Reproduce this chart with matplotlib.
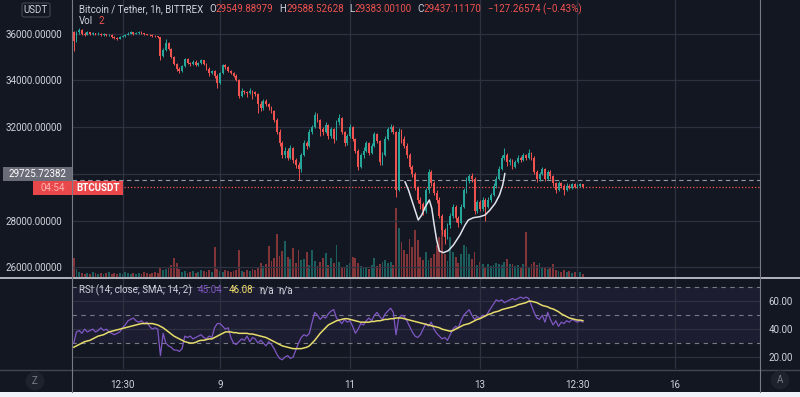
import matplotlib
matplotlib.use("Agg")
import matplotlib.pyplot as plt
import numpy as np
from matplotlib.lines import Line2D
from matplotlib.patches import Rectangle, FancyBboxPatch

plt.rcParams['font.family'] = ['Roboto', 'DejaVu Sans']

# BTC/USDT 1h candles, hour 0 = day 9 00:00
first_hour = -54
first_open = 36050

close = [
    35700, 36050, 36150, 36000, 35950, 36050, 35980, 36020, 35960, 36000,
    35940, 35980, 35920, 35950, 35850, 35800, 35780, 35850, 35900, 35950,
    36000, 36050, 35980, 36030, 36070, 36000, 35980, 35950, 35930, 35900,
    35880, 35850, 35050, 35300, 35600, 35350, 35000, 34700, 34500, 34400,
    34600, 34900, 34750, 34700, 34800, 34650, 34750, 34850, 34700, 34500,
    34300, 34400, 34200, 33900, 34300, 34650, 34550, 34400, 34300, 34200,
    34000, 33350, 33550, 33500, 33450, 33550, 33500, 33400, 33000, 32800,
    33100, 33000, 32850, 32700, 32300, 31800, 31300, 30800, 31000, 30700,
    31100, 30600, 30400, 30200, 30800, 31300, 31200, 31800, 32000, 32500,
    32300, 31900, 31800, 32100, 31600, 31900, 31500, 32200, 32400, 31800,
    31300, 31600, 32000, 31500, 31000, 30300, 30800, 31000, 31300, 30900,
    31200, 31700, 31400, 30500, 30800, 31500, 31900, 32000, 31800, 29300,
    31800, 31500, 31200, 30800, 30300, 30000, 29400, 28900, 28700, 28400,
    29300, 30100, 29600, 29200, 28900, 28200, 27600, 27300, 27800, 28200,
    28600, 28100, 27900, 28600, 29300, 29700, 29900, 29800, 28400, 28800,
    28500, 28900, 28600, 28900, 29100, 29500, 29800, 30200, 30700, 30800,
    30500, 30600, 30300, 30500, 30700, 30600, 30800, 30700, 30900, 30700,
    30100, 29800, 30000, 30200, 29800, 30100, 29900, 29600, 29300, 29600,
    29500, 29300, 29500, 29400, 29550, 29450, 29500, 29560, 29437.11,
]
high = [
    36100, 36100, 36250, 36180, 36050, 36100, 36080, 36060, 36040, 36050,
    36020, 36020, 36000, 35990, 35970, 35880, 35840, 35890, 35950, 36000,
    36060, 36120, 36080, 36080, 36110, 36090, 36030, 36000, 35980, 35960,
    35930, 35900, 35870, 35400, 35750, 35650, 35400, 35050, 34750, 34550,
    34650, 34950, 34950, 34800, 34850, 34850, 34800, 34900, 34880, 34750,
    34550, 34450, 34450, 34250, 34350, 34700, 34700, 34600, 34450, 34350,
    34250, 34050, 33650, 33600, 33550, 33650, 33600, 33550, 33450, 33100,
    33200, 33200, 33050, 32900, 32750, 32400, 31900, 31400, 31150, 31100,
    31250, 31150, 30700, 30500, 30900, 31450, 31400, 31900, 32100, 32650,
    32600, 32350, 32000, 32200, 32150, 32000, 31950, 32300, 32550, 32450,
    31850, 31700, 32150, 32050, 31550, 31050, 30900, 31150, 31400, 31350,
    31300, 31800, 31750, 31450, 30950, 31600, 32000, 32150, 32100, 31850,
    31950, 31900, 31600, 31300, 30900, 30400, 30100, 29500, 29000, 28800,
    29400, 30200, 30150, 29700, 29300, 29000, 28300, 27700, 27900, 28350,
    28700, 28650, 28200, 28700, 29400, 29850, 30000, 30050, 29850, 28900,
    28900, 29000, 28950, 29000, 29200, 29600, 29900, 30350, 30800, 31100,
    30900, 30700, 30650, 30600, 30800, 30750, 30900, 30850, 31050, 30950,
    30750, 30150, 30100, 30300, 30250, 30150, 30150, 29950, 29650, 29700,
    29650, 29550, 29600, 29550, 29600, 29600, 29560, 29600, 29588.53,
]
low = [
    35250, 35650, 36000, 35950, 35900, 35920, 35940, 35950, 35920, 35930,
    35900, 35910, 35880, 35890, 35820, 35760, 35740, 35760, 35830, 35870,
    35930, 35970, 35950, 35960, 36000, 35970, 35940, 35920, 35900, 35870,
    35840, 35800, 34850, 35000, 35250, 35300, 34950, 34650, 34400, 34300,
    34350, 34550, 34700, 34600, 34650, 34600, 34600, 34700, 34650, 34450,
    34200, 34250, 34100, 33650, 33850, 34250, 34500, 34350, 34250, 34150,
    33950, 33250, 33300, 33400, 33300, 33400, 33200, 33350, 32600, 32700,
    32750, 32900, 32750, 32600, 32200, 31700, 31200, 30700, 30700, 30600,
    30650, 30450, 30250, 29750, 30100, 30750, 31050, 31150, 31700, 31950,
    32200, 31600, 31650, 31750, 31500, 31550, 31300, 31450, 32100, 31700,
    31200, 31250, 31550, 31400, 30900, 30150, 30250, 30700, 30950, 30800,
    30850, 31150, 31300, 30400, 30400, 30750, 31450, 31800, 31700, 29000,
    29250, 31300, 31100, 30700, 30200, 29850, 29300, 28750, 28500, 28250,
    28350, 29200, 29500, 29100, 28750, 28100, 27400, 27000, 27200, 27700,
    28100, 27950, 27750, 27850, 28550, 29200, 29600, 29650, 28300, 28350,
    28400, 28400, 28000, 28550, 28800, 29050, 29400, 29750, 30150, 30600,
    30350, 30400, 30200, 30250, 30450, 30500, 30550, 30600, 30650, 30600,
    30000, 29650, 29700, 29950, 29700, 29750, 29800, 29500, 29200, 29250,
    29400, 29100, 29250, 29350, 29350, 29400, 29400, 29450, 29383.00,
]
volume = [
    19, 8, 5, 4, 3, 4, 3, 5, 4, 3, 4, 3, 4, 5, 3, 4, 3, 4, 3, 5,
    4, 3, 4, 3, 4, 3, 5, 4, 3, 4, 5, 4, 9, 7, 8, 10, 12, 19, 14, 8,
    5, 6, 4, 5, 6, 4, 5, 7, 6, 5, 7, 5, 30, 8, 6, 5, 7, 6, 5, 6,
    7, 27, 6, 5, 7, 6, 8, 7, 9, 14, 11, 13, 31, 16, 19, 43, 21, 26, 36, 20,
    18, 29, 14, 27, 17, 18, 25, 12, 27, 16, 11, 15, 19, 24, 12, 19, 14, 32, 15, 10,
    9, 12, 14, 20, 19, 14, 11, 9, 10, 8, 12, 19, 11, 13, 15, 17, 14, 15, 12, 69,
    49, 35, 27, 23, 38, 30, 47, 37, 20, 17, 25, 17, 19, 23, 32, 40, 50, 23, 16, 40,
    25, 20, 14, 23, 32, 30, 23, 18, 25, 12, 15, 13, 10, 13, 11, 12, 14, 13, 12, 15,
    18, 13, 13, 11, 12, 10, 13, 45, 10, 13, 15, 12, 14, 9, 10, 8, 9, 13, 7, 6,
    5, 7, 5, 6, 4, 5, 4, 5, 3,
]
rsi = [
    30, 38, 39, 37, 40, 38, 39, 40, 38, 39, 41, 39, 40, 38,
    37, 36, 37, 38, 41, 43, 46, 47, 48, 46, 45, 46, 44, 45,
    42, 40, 41, 40, 21, 37, 30, 28, 27, 25, 25, 24, 26, 35,
    34, 35, 33, 34, 35, 36, 34, 33, 35, 34, 41, 44, 44, 42,
    40, 41, 34, 30, 29, 31, 33, 32, 35, 31, 34, 33, 30, 32,
    30, 28, 31, 29, 26, 22, 19, 18, 20, 21, 19, 20, 25, 30,
    34, 36, 35, 37, 45, 52, 50, 47, 49, 48, 51, 53, 54, 48,
    46, 44, 47, 45, 46, 42, 37, 40, 44, 43, 46, 48, 46, 50,
    52, 49, 47, 51, 53, 55, 52, 36, 48, 50, 49, 46, 42, 38,
    35, 34, 36, 40, 44, 42, 45, 40, 37, 35, 33, 34, 32, 36,
    40, 42, 41, 46, 50, 52, 54, 50, 47, 49, 48, 50, 49, 52,
    55, 58, 61, 60, 61, 59, 60, 61, 62, 61, 62, 63, 62, 63,
    62, 57, 52, 48, 47, 50, 45, 52, 47, 43, 46, 42, 45, 44,
    46, 45, 47, 46, 45, 46, 45.04,
]
rsi_sma = [
    27, 28, 29, 30, 31, 31.5, 32, 33, 34, 35, 35.5, 36, 37, 38,
    38.5, 39, 39.5, 40, 40.5, 41, 41.5, 42, 42.5, 43, 43.5, 44, 44, 44,
    44, 44, 43.5, 43, 42, 41, 39.5, 38, 36.5, 35, 34, 33, 32, 31, 30.5,
    30, 30, 30.5, 31.5, 32, 32, 32.5, 33, 33, 34, 35, 36, 37, 38,
    38, 38, 37.5, 37.5, 37, 37, 37, 37, 36.5, 36.5, 36, 35.5,
    35, 34.5, 34, 33, 32, 31, 30, 29, 28, 27.5, 27, 26.5, 26, 26, 26,
    26, 26.5, 27, 28, 30, 32, 34.5, 37, 39, 41, 43,
    44, 45, 46, 46.5, 47, 47.5, 47.5, 47,
    46.5, 46, 45.5, 45, 45, 45, 45, 45.5, 45.5, 46, 46, 46.5,
    47, 47, 47.5, 47.5, 48, 48,
    48, 47.5, 47, 46.5, 46, 45.5, 45, 44.5, 44, 43.5, 43, 42.5,
    42, 41.5, 41, 40, 39.5, 39, 38.5,
    39, 40, 41, 42, 43, 43.5, 44, 45, 46, 47, 47.5, 48.5,
    49.5, 50.5, 51, 52, 52.5, 53, 54, 54.5, 55,
    55.5, 56, 56.5, 57.5, 58, 58.5, 59, 60,
    60, 59.5, 59, 58, 57, 56.5, 56, 55, 54.5, 53.5,
    52.5, 51, 50, 49, 48, 47.5, 47, 46.5, 46.5, 46.08,
]

# hand-drawn pattern line (hour, price)
pattern_hour = [68.3, 69.6, 70.8, 72.0, 73.2, 74.5, 75.7, 77.3, 78.2, 79.0, 80.0, 81.0, 82.5,
                84.3, 86.2, 88.6, 90.5, 91.7, 93.6, 96.0, 97.9, 99.7, 101.6, 103.2, 104.4, 105.2]
pattern_price = [29668, 29312, 28885, 28457, 28030, 28244, 28571, 28885, 28529, 27888, 27175,
                 26705, 26634, 26719, 26962, 27389, 27816, 28030, 28130, 28172, 28244, 28457,
                 28742, 29098, 29526, 30024]

tick_hours = [-36, 0, 48, 96, 132, 168]
tick_labels = ['12:30', '9', '11', '13', '12:30', '16']
price_ticks = [26000, 28000, 30000, 32000, 34000, 36000]
rsi_ticks = [20, 40, 60]
alert_price = 29725.72382
last_price = 29437.11170

BG = '#131722'
GRID = '#2e3240'
TXT = '#d1d4dc'
UP = '#26a69a'
DOWN = '#ef5350'

W, H = 800, 397
fig = plt.figure(figsize=(W / 100, H / 100), dpi=100, facecolor=BG)


def rect(x0, y0, x1, y1):
    return [x0 / W, 1 - y1 / H, (x1 - x0) / W, (y1 - y0) / H]


def fig_line(x0, y0, x1, y1, **kw):
    fig.add_artist(Line2D([x0 / W, x1 / W], [1 - y0 / H, 1 - y1 / H],
                          transform=fig.transFigure, **kw))


def fig_box(x0, y0, x1, y1, color):
    fig.add_artist(Rectangle((x0 / W, 1 - y1 / H), (x1 - x0) / W, (y1 - y0) / H,
                             transform=fig.transFigure, fc=color, ec='none', zorder=5))


def fig_text(x, y, s, **kw):
    kw.setdefault('fontsize', 7)
    kw.setdefault('va', 'center')
    return fig.text(x / W, 1 - y / H, s, **kw)


def text_row(x, y, parts):
    r = fig.canvas.get_renderer()
    for s, c, gap in parts:
        t = fig_text(x, y, s, color=c, ha='left', zorder=6)
        x += t.get_window_extent(r).width + gap


hours = np.arange(first_hour, first_hour + len(close))
c = np.array(close, float)
o = np.r_[first_open, c[:-1]]
hi = np.maximum(np.array(high, float), np.maximum(o, c))
lo = np.minimum(np.array(low, float), np.minimum(o, c))
up = c >= o
col = np.where(up, UP, DOWN)

axv = fig.add_axes(rect(72, 0, 760, 277))
ax = fig.add_axes(rect(72, 0, 760, 277), sharex=axv)
axr = fig.add_axes(rect(72, 278, 760, 369), sharex=axv)
axv.set_facecolor(BG)
ax.patch.set_alpha(0)
axr.set_facecolor(BG)
for a in (axv, ax, axr):
    for s in a.spines.values():
        s.set_visible(False)

# volume
axv.bar(hours, volume, width=0.68, color=col, alpha=0.5, lw=0)
axv.set_ylim(0, 4.0 * max(volume))
axv.set_yticks([])
axv.tick_params(axis='x', length=0, labelbottom=False)

# candles
ax.set_xlim(-54.65, 199.4)
ax.set_ylim(25594, 37432)
ax.vlines(hours, lo, hi, colors=col, lw=0.7, zorder=3)
ax.bar(hours, np.maximum(np.abs(c - o), 25), bottom=np.minimum(o, c), width=0.68,
       color=col, lw=0, zorder=4)
ax.plot(pattern_hour, pattern_price, color='#e0e3eb', lw=1.1, zorder=5, solid_capstyle='round')
ax.axhline(alert_price, color='#9598a1', lw=0.8, ls=(0, (4, 3)), zorder=2)
ax.axhline(last_price, color=DOWN, lw=0.9, ls=(0, (1, 1.6)), zorder=2)
ax.set_yticks(price_ticks)
# the 30000 label sits under the alert price box, as on the original scale
ax.set_yticklabels(['' if v == 30000 else f'{v:.5f}' for v in price_ticks])
ax.set_xticks(tick_hours)
ax.tick_params(axis='x', length=0, labelbottom=False)
ax.tick_params(axis='y', length=0, pad=7, labelcolor=TXT, labelsize=7)
ax.grid(True, color=GRID, lw=0.9, zorder=0)

# RSI
axr.set_ylim(11.4, 76.7)
axr.axhspan(30, 70, color='#7e57c2', alpha=0.1, lw=0)
for lvl in (70, 50, 30):
    axr.axhline(lvl, color='#787b86', lw=0.8, ls=(0, (4, 4)))
axr.plot(hours, rsi, color='#7e57c2', lw=0.9)
axr.plot(hours, rsi_sma, color='#e6dc6a', lw=1.1)
axr.yaxis.tick_right()
axr.set_yticks(rsi_ticks)
axr.set_yticklabels([f'{v:.2f}' for v in rsi_ticks])
axr.set_xticks(tick_hours)
axr.set_xticklabels(tick_labels)
axr.tick_params(axis='y', length=0, pad=6, labelcolor=TXT, labelsize=7)
axr.tick_params(axis='x', length=0, pad=8, labelcolor=TXT, labelsize=7)
axr.grid(True, color=GRID, lw=0.9)

# frame lines
fig_line(0, 277.5, 800, 277.5, color='#b2b5be', lw=1.4)
fig_line(0, 369.5, 800, 369.5, color='#434651', lw=1.0)
fig_line(72, 0, 72, 392, color='#787b86', lw=0.8)
fig_line(760, 0, 760, 392, color='#787b86', lw=0.8)
fig.add_artist(Rectangle((0, 0), 1, 5 / H, transform=fig.transFigure, fc='#f0f3fa', ec='none'))

# price labels on the left scale
fig_box(3, 167, 72, 181, '#6a6d78')
fig_text(37.5, 174, f'{alert_price:.5f}', color='white', ha='center', zorder=6)
fig_box(33, 181, 72, 195, '#e9484b')
fig_text(52.5, 188, '04:54', color='#ffb4b4', ha='center', zorder=6)
fig_box(73, 181, 123, 195, '#e9484b')
fig_text(98, 188, 'BTCUSDT', color='white', ha='center', weight='bold', zorder=6)

fig.add_artist(FancyBboxPatch((22 / W, 1 - 17 / H), 28 / W, 14 / H, boxstyle='round,pad=0,rounding_size=0.004',
                              transform=fig.transFigure, fc='none', ec='#434651', lw=0.8))
fig_text(36, 10, 'USDT', color=TXT, ha='center')

for x, y, s in ((35, 381, 'Z'), (780, 380, 'A')):
    fig_text(x, y, s, color='#787b86', ha='center',
             bbox=dict(boxstyle='circle,pad=0.45', fc='#1e222d', ec='none'))

red_txt = '#ef5350'
text_row(79, 9, [('Bitcoin / Tether, 1h, BITTREX', TXT, 6),
                 ('O', TXT, 0), ('29549.88979', red_txt, 6),
                 ('H', TXT, 0), ('29588.52628', red_txt, 5),
                 ('L', TXT, 0), ('29383.00100', red_txt, 6),
                 ('C', TXT, 0), ('29437.11170', red_txt, 6),
                 ('\u2212127.26574 (\u22120.43%)', red_txt, 0)])
text_row(79, 21, [('Vol', TXT, 5), ('2', red_txt, 0)])
text_row(79, 290, [('RSI (14, close, SMA, 14, 2)', TXT, 6), ('45.04', '#7e57c2', 6),
                   ('46.08', '#f0e06a', 6), ('n/a', TXT, 5), ('n/a', TXT, 0)])

fig.savefig('out.png', dpi=100, facecolor=BG)
